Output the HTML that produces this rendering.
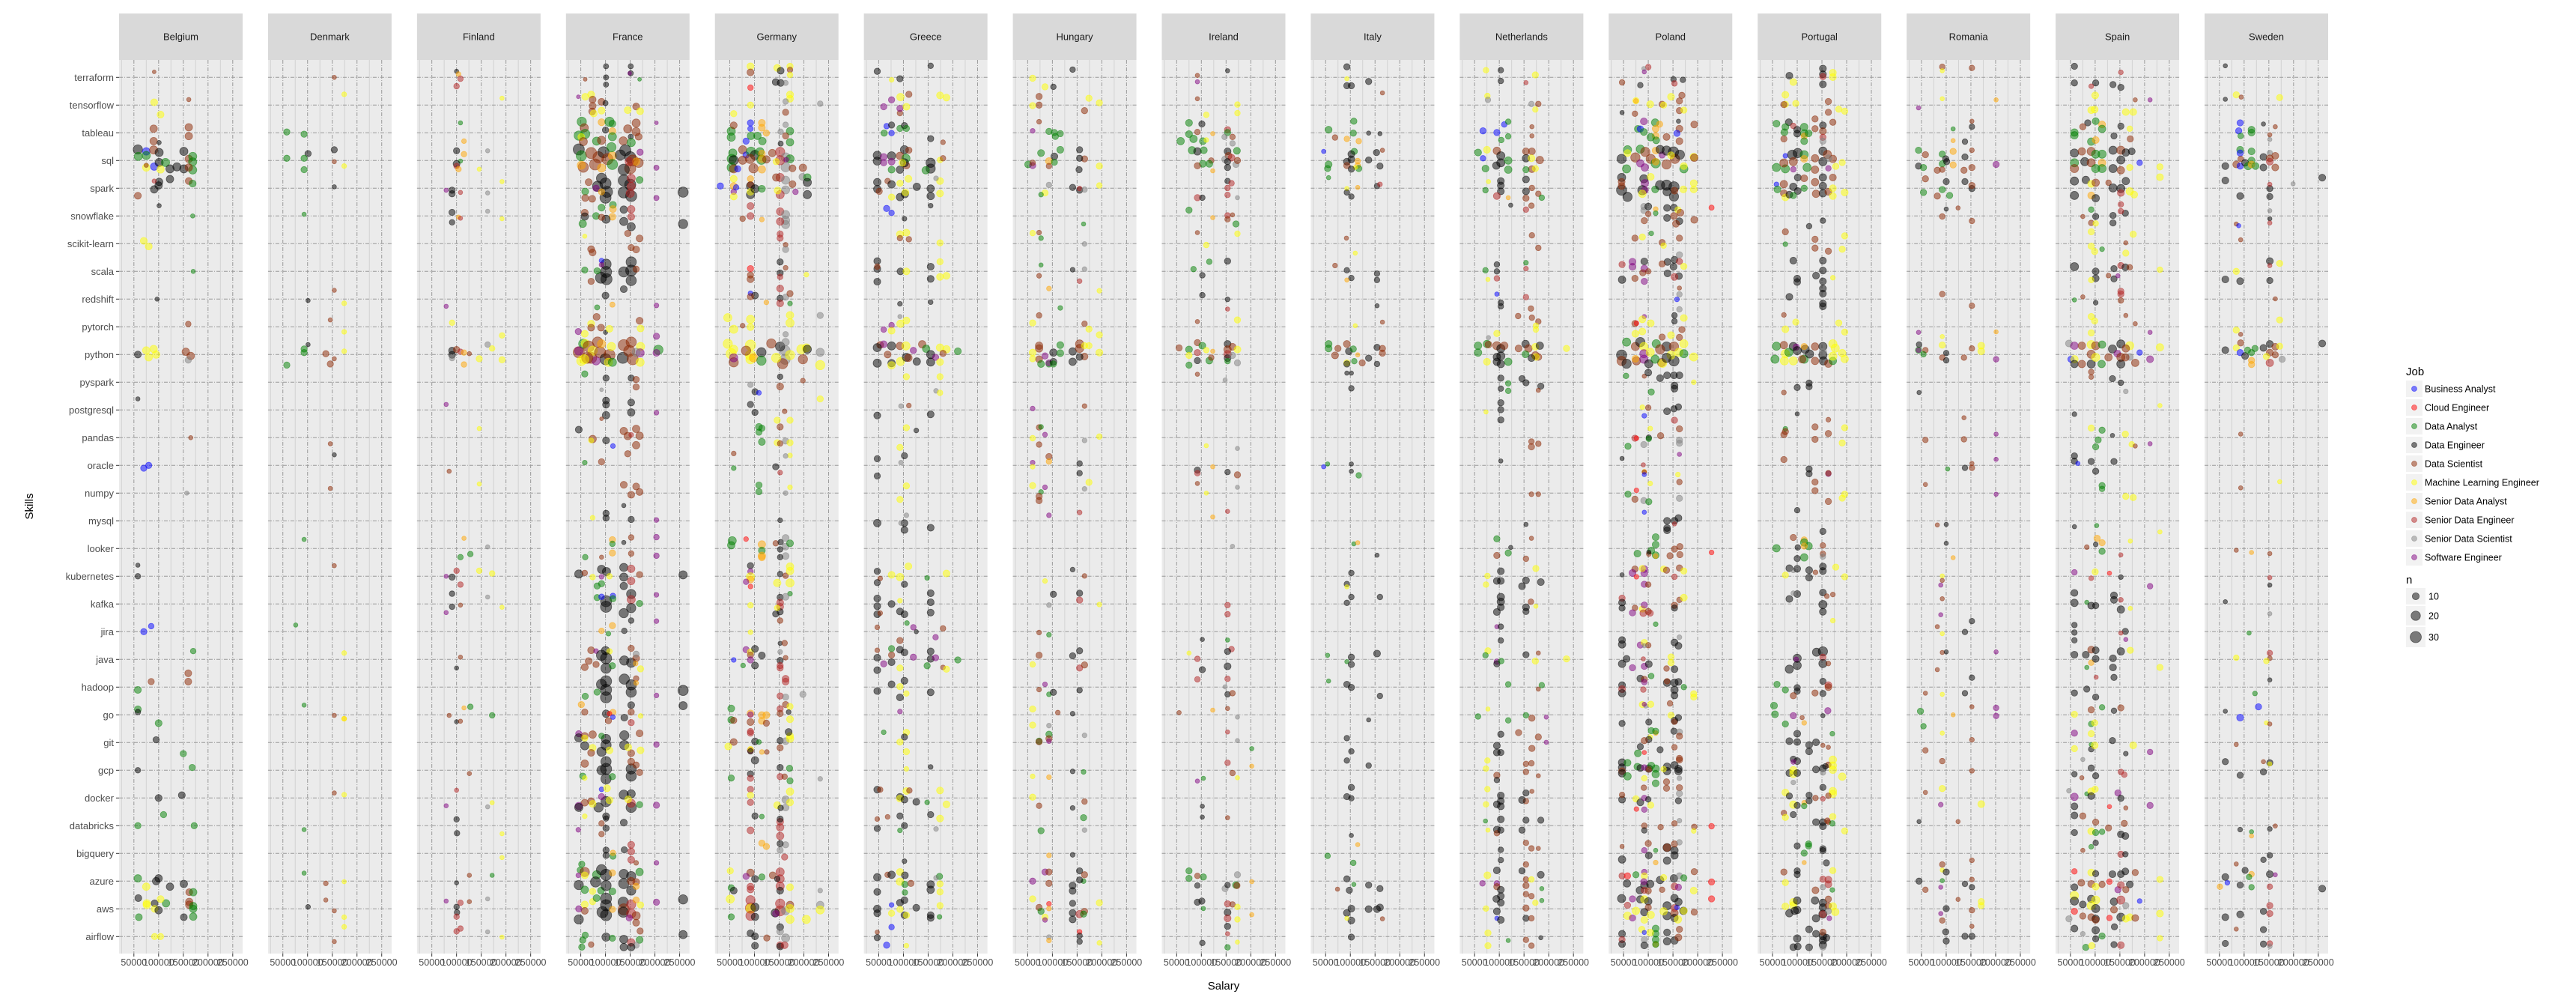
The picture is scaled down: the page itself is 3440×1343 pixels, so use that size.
<!DOCTYPE html>
<html lang="en">
<head>
<meta charset="utf-8">
<title>Skills vs Salary by Country</title>
<style>
html,body{margin:0;padding:0;background:#ffffff;}
svg{display:block;}
text{font-family:"Liberation Sans",sans-serif;}
</style>
</head>
<body>
<svg id="chart" xmlns="http://www.w3.org/2000/svg" width="3440" height="1343" viewBox="0 0 3440 1343">
<rect x="0" y="0" width="3440" height="1343" fill="#ffffff"/>
<g id="panels"></g>
<g id="points"></g>
<g id="axes"></g>
<g id="legend"></g>
</svg>
<script>
const skills=["terraform","tensorflow","tableau","sql","spark","snowflake","scikit-learn","scala","redshift","pytorch","python","pyspark","postgresql","pandas","oracle","numpy","mysql","looker","kubernetes","kafka","jira","java","hadoop","go","git","gcp","docker","databricks","bigquery","azure","aws","airflow"];
const countries=["Belgium","Denmark","Finland","France","Germany","Greece","Hungary","Ireland","Italy","Netherlands","Poland","Portugal","Romania","Spain","Sweden"];
const jobCodes=["B","C","A","E","S","M","O","G","X","W"];
const jobNames=["Business Analyst","Cloud Engineer","Data Analyst","Data Engineer","Data Scientist","Machine Learning Engineer","Senior Data Analyst","Senior Data Engineer","Senior Data Scientist","Software Engineer"];
const jobColors=["#0000ff","#ff0000","#008000","#000000","#8b2500","#ffff00","#ffa500","#b22222","#808080","#800080"];
const xTicks=[50000,100000,150000,200000,250000];
const xTickLabels=["50000","100000","150000","200000","250000"];
const xMinorTicks=[25000,75000,125000,175000,225000];
const sizeLegendValues=[10,20,30];
const sizeLegendLabels=["10","20","30"];
// point tokens: <jobCode><salary in thousands>,<skill row + jitter>,<n>
const pointData=[
"S91,-.2,2 M91,.9,10 S161,.8,3 M104,1.34,10 S90,1.85,12 S161,1.8,12 S161,2.12,12 S90,2.3,12 E101,2.35,3 E58,2.6,20 B75,2.67,12 A59,2.85,15 A75,2.82,15 S90,2.62,15 E101,2.71,15 B91,3.22,12 M75,3.25,12 E101,3.07,15 A114,3.07,15 E123,3.3,15 E137,3.23,15 E151,2.67,15 E151,3.3,15 S161,2.94,12 A169,2.85,15 A169,3.05,15 A169,3.34,15 S161,3.25,12 M104,3.32,12 S75,3.17,3 E101,3.77,12 E100,3.9,12 E91,4.04,12 E123,3.67,12 G91,3.74,3 S161,3.74,10 A169,3.83,10 S58,4.27,10 E101,4.63,3 A169,5,3 M70,5.9,10 M80,6.1,10 A170,7,3 E97,8,3 S160,8.9,6 M75,9.85,12 M80,10.1,12 M95,10,12 M90,9.8,12 S155,9.9,12 S165,10.05,12 E58,10,10 X160,10.2,8 E58,11.6,3 S165,13,3 B70,14.1,8 B80,14,8 X157,15,3 E58,17.6,3 E58,18,6 B70,20,8 B85,19.8,6 A170,20.7,6 S85,21.8,8 S160,21.5,10 S160,21.8,10 A58,22.1,10 A58,22.8,10 A100,23.3,10 E58,22.9,6 E95,23.9,8 A150,24.4,8 E58,25,6 A168,24.9,8 E100,26,10 A110,26.6,8 E147,25.9,10 A58,27,8 A172,27,8 A58,28.9,12 E95,29,12 E100,28.9,12 E123,29.2,12 E151,29.1,12 S162,29.4,10 A170,29.4,12 M75,29.2,12 E59,29.61,10 M76,29.8,12 M76,29.86,12 E92,29.8,10 A115,29.8,12 M104,29.65,10 M92,30,10 E100,30.05,12 E151,30.3,10 A60,30.3,10 S162,29.75,12 S162,29.85,12 A170,29.9,12 A170,30,12 A170,30.28,12 M92,31,8 M104,31,8",
"S154,0,3 M174,.61,4 A58,1.97,8 A93,2.05,8 E101,2.75,8 E154,2.61,8 A58,2.92,8 A93,2.92,8 A93,3.33,8 S154,3.04,3 M174,3.2,4 E154,3.95,3 A93,4.94,3 S154,7.68,3 E101,8.05,3 M174,8.15,4 S146,8.75,3 M174,9.18,4 E101,9.64,3 A93,9.8,8 A93,9.93,8 S137,9.97,8 S154,10.15,3 S146,10.34,8 A58,10.38,8 M174,9.88,4 S146,13.22,3 E154,13.62,3 S146,14.83,3 A93,16.67,3 S154,17.62,3 A76,19.76,3 M174,20.77,4 A93,22.65,3 S154,23.02,3 O174,23.14,4 M174,23.14,4 S154,25.82,3 M174,25.88,4 A93,27.14,3 A93,28.71,3 S137,29.08,4 M174,29.02,3 S137,29.68,3 E101,29.93,4 S154,30.07,3 M174,30.3,4 M174,30.65,4 S154,31.18,3",
"E100,-.22,3 O104,-.12,4 G108,.05,6 G100,.32,6 M192,.75,3 A108,1.64,3 O115,2.3,4 E100,2.65,8 O115,2.77,6 X163,2.65,3 A108,3.02,3 E100,3.12,10 G100,3.2,6 O104,3.31,6 M146,3.31,3 M192,3.76,3 W79,4.07,3 E91,4.07,8 E91,4.2,8 G108,4.15,3 X163,4.17,3 E91,4.87,8 X163,4.83,3 O104,5.04,3 G108,5.08,3 E91,5.23,6 M192,5.1,3 W79,8.26,3 M91,8.85,6 X163,9.64,6 M172,9.78,6 M192,9.31,6 E91,9.86,10 E91,10.01,10 X91,10.13,6 S100,9.82,8 G108,9.9,6 O115,9.93,6 S126,9.97,3 O115,10.36,6 M146,10.15,8 M192,10.19,8 W79,11.8,3 M146,12.67,3 S85,14.21,3 M146,14.67,3 O115,16.63,3 X163,16.94,3 A108,17.31,6 A128,17.2,6 G100,17.8,6 M146,17.8,6 M172,17.9,6 W79,18,3 E91,18.03,8 G108,18.3,6 E91,18.63,6 X163,18.75,3 E91,19.1,6 S108,19.04,3 W79,19.31,3 M192,19.12,3 S108,20.92,3 E100,21.31,3 O115,22.75,3 A128,22.71,6 S85,23.02,3 E100,23.25,3 S108,23.23,3 A172,23.02,6 S126,25.12,3 G100,25.72,3 W79,26.28,3 X163,26.32,3 M172,26.17,3 E100,26.77,6 E101,27.27,6 M192,27.29,3 M192,28.15,3 S126,28.79,3 A172,28.79,3 E100,29.06,3 W79,29.72,3 G108,29.78,6 S126,29.74,3 X163,29.64,3 E100,29.93,6 E101,30.13,6 G100,30.28,6 X163,30.83,3 G100,30.81,6 G108,30.71,6 M192,31.02,3",
"E101,-.4,5 E151,-.4,5 E151,-.15,5 W149,-.15,2 E101,0,5 S59,.07,2 A169,.07,2 E101,.26,5 W45,.7,2 M59,.7,10 M71,.62,10 S74,.8,10 S92,.88,10 E100,.93,5 S74,1.03,10 M92,1.2,10 S73,1.23,10 M76,1.3,10 M145,1.18,10 S162,1.05,10 M170,1.22,10 A52,1.6,20 O92,1.62,10 A108,1.6,20 A114,1.67,10 W203,1.64,2 S162,1.65,15 S57,1.82,15 E100,1.9,8 O114,1.94,10 S145,1.86,15 S162,1.96,15 E151,2.14,5 A46,2.1,20 A59,2.04,20 M51,2.15,10 S167,2.14,10 S55,2.32,15 A82,2.3,15 S92,2.27,15 A114,2.14,15 S136,2.29,15 A152,2.35,15 E46,2.6,30 A51,2.83,25 S71,2.73,30 S86,2.88,30 E96,2.7,30 S104,2.95,30 O114,2.83,15 A114,3.14,25 S55,3.24,25 O51,3.17,15 S79,3.14,30 O92,3.27,15 E140,2.63,30 E150,2.88,30 S155,3,30 S150,3.28,30 S167,3.08,20 E137,3.33,30 W170,2.7,8 W203,3.26,5 O162,3.04,12 G148,3.04,15 A112,2.52,20 E130,2.8,25 E92,3.64,25 E100,3.83,30 E103,4.13,30 E100,4.34,30 E84,3.93,25 E137,3.72,30 E150,3.87,30 E137,4.15,30 E152,4.28,30 G152,3.64,15 G152,3.93,15 G150,4.18,15 S66,3.78,10 A59,4.12,10 S59,4.35,10 W81,4,8 O92,4.13,8 A169,3.7,10 W203,4.35,5 E257,4.14,25 S73,4.38,10 A115,4.6,10 O115,4.75,10 A92,4.7,10 E137,4.77,12 G152,4.76,12 S58,4.88,10 E58,5.02,12 O114,5.03,10 E101,5.12,15 A81,5,10 S92,5.05,8 E137,5.2,15 G152,5.03,10 A54,5.28,12 E152,5.39,15 E257,5.29,20 S145,5.63,8 M58,5.73,3 S169,5.81,10 S71,6.2,10 S74,6.32,10 S152,6.14,8 S162,6.21,10 E101,6.74,25 E101,7.02,30 E91,7.23,30 E102,7.28,30 E137,7.02,25 E152,6.66,25 E152,6.97,30 E152,7.33,25 A58,6.95,8 A83,6.98,8 S71,7.36,8 B92,6.61,4 W92,6.76,4 S162,6.92,8 E137,7.64,10 E100,7.87,10 A83,8.3,5 O114,8.2,5 W203,8.23,4 S82,8.64,10 M71,8.89,10 S71,9.03,10 S91,9.03,10 W45,9.17,8 M58,9.25,10 E100,9.2,3 M108,9.07,10 S169,8.78,10 M171,9.06,10 W203,9.34,8 S46,9.92,30 M51,10.23,20 A55,9.61,20 M59,9.6,15 S66,9.71,30 S71,10.12,30 M74,9.86,20 S84,9.55,25 S89,9.92,30 O92,9.61,15 E100,10.17,30 S108,10.02,30 M106,10.28,15 A114,10.28,15 M112,9.71,15 W46,9.87,15 W81,10.23,15 E135,10.12,30 S137,9.66,30 S148,9.87,30 S152,9.55,25 S155,10.17,30 M171,9.71,15 M170,10.28,15 W170,9.94,15 X162,9.92,15 A207,9.83,20 W203,9.94,10 S63,10.12,30 M57,10.17,20 A58,10.7,8 E101,10.85,8 E152,10.85,8 S162,10.9,8 S162,11.17,8 X92,11.27,2 E101,11.66,10 E101,11.81,10 E152,11.73,10 E152,12.09,12 E101,12.19,12 S92,12.32,2 W203,12.1,4 E46,12.71,10 S137,12.76,12 S145,12.94,12 S162,12.68,12 S169,12.93,12 S74,13.05,12 M71,13.1,5 E101,13.1,10 B115,13.3,4 G152,12.9,4 S162,13.27,12 S145,13.58,8 A58,13.9,4 S92,13.87,8 S137,14.7,10 S162,14.76,10 S152,15.06,10 S169,14.96,10 E137,15.45,3 E101,15.73,8 E101,15.9,8 M74,15.89,4 E152,15.95,8 W203,15.97,4 O114,16.68,8 A114,16.83,6 E137,16.78,3 S152,16.6,6 W203,16.59,6 A59,17.31,6 O114,17.16,8 S92,17.31,3 S152,17.18,6 W203,17.26,6 E92,17.75,15 E102,17.83,15 E46,17.92,15 S58,17.88,6 M74,18.03,6 W92,18.02,4 M108,18,6 A92,18.27,8 A83,18.35,8 E137,17.68,15 G152,17.73,12 E137,18.03,15 G152,18.17,12 E137,18.35,12 S169,17.94,8 E257,17.95,15 E101,18.9,30 E101,19.1,30 A83,18.77,8 B92,18.74,6 B115,18.71,6 A115,18.81,8 E152,18.64,20 G152,18.84,15 E152,19.15,20 E137,19.33,20 A169,18.98,8 W203,18.67,4 W203,19.62,4 E152,19.6,6 O114,19.78,8 O92,19.97,6 A106,20.07,4 E138,19.97,6 S71,20.67,10 W81,20.7,4 E100,20.68,15 M108,20.71,6 E92,20.85,25 E101,20.96,30 S66,21.06,10 S58,21.28,10 S81,21.18,8 E101,21.32,25 A114,21.23,8 E138,21.04,20 E152,21.12,20 S162,20.96,10 S152,20.6,8 X162,20.81,8 M171,21.34,8 O161,21.15,4 E92,21.9,25 E101,21.79,30 E101,22.1,30 E101,22.37,30 A83,22.18,8 A59,22.33,8 E138,21.71,25 E152,21.92,25 E152,22.18,25 S162,21.69,6 O162,21.85,4 E257,22.12,25 W203,22.3,4 O51,22.63,8 E152,22.65,10 S58,22.9,8 E101,22.96,12 O115,22.91,8 C108,22.96,4 S106,23.21,8 E138,23.1,10 S152,22.9,8 M171,23.04,4 E257,22.67,15 G152,23.28,8 B115,23.08,4 W46,23.68,8 E46,23.83,15 S58,23.76,10 M58,23.84,8 E58,24.12,15 S74,23.71,12 M74,24.19,10 S71,24.37,10 E101,23.87,20 E101,24.09,25 E92,24.33,20 A92,23.76,6 M108,24.28,10 E138,23.74,20 E138,24.09,20 S169,23.67,10 S152,24.38,10 M146,24.17,10 M171,24.28,10 W203,24.07,6 S58,24.76,12 E101,24.69,25 E101,24.95,30 E92,25,20 E101,25.31,25 A54,25.21,8 M58,25.28,4 E152,24.95,25 E152,25.21,25 S152,24.69,10 S162,24.81,8 S169,25.08,8 A114,25.23,8 B92,25.69,4 M103,25.65,10 E101,26.13,25 E86,26.34,20 W92,25.95,8 S58,26.17,10 W46,26.29,12 E46,26.34,15 S71,26.12,10 M74,26.21,10 M108,26.08,10 E137,25.88,20 E152,26.34,25 G152,26.19,15 E152,25.85,15 A169,26.24,8 W203,26.26,8 M146,26.05,10 E101,26.66,10 E101,26.74,6 M58,26.66,4 W45,27.15,4 S92,26.92,6 S92,27.3,6 E101,27.09,8 E137,26.89,10 E101,27.88,8 E101,28.07,8 A115,28.1,8 O115,27.98,6 E138,27.87,8 G152,27.69,10 G152,27.93,10 G152,28.23,10 S162,28.34,4 W203,28.34,4 A52,28.39,8 A49,28.6,8 S58,28.67,20 M58,28.79,10 A82,28.77,15 E92,28.59,25 E101,28.77,30 E80,29.03,25 E46,29.14,20 A58,29.31,12 M74,29.37,8 A91,29.34,10 A114,29.37,10 E101,29.16,25 O114,28.7,8 W45,28.79,4 E137,28.74,20 E152,28.82,20 E137,29.09,25 E152,29.34,20 S152,29,12 A169,28.67,12 S162,29.03,10 O162,29.19,8 E101,29.63,30 E101,29.87,30 E94,30.12,30 E101,30.23,30 E46,30.38,20 M58,29.84,10 S58,30.07,10 W46,30,8 M74,29.74,8 A82,29.61,10 O114,30.02,8 E136,29.76,25 S137,30.02,30 E136,30.12,25 G152,29.84,20 G152,30.17,20 S162,30.25,15 O162,29.68,8 M171,29.86,8 W148,30.33,8 W203,29.76,8 E257,29.66,20 S162,30.5,10 A59,30.95,8 A54,31.13,8 A52,31.38,8 E101,31.02,15 A114,31.06,8 S71,31.29,6 E137,31.1,15 E137,31.38,12 G152,31.21,12 A169,31.12,10 X162,31.31,8 S170,30.8,8 E257,30.93,15 E152,31.38,12",
"M92,-.4,10 S92,-.18,10 M146,-.34,10 E153,-.24,10 M172,-.4,8 S172,-.27,6 M172,-.09,6 E143,.17,10 E153,.2,10 X163,.2,5 C92,.37,6 M92,1,8 M58,1.31,8 M172,.62,10 M172,.77,10 X163,.87,6 S163,1.26,8 X233,.95,6 B92,1.64,8 B92,1.85,6 O115,1.64,10 O115,1.82,10 O124,2.01,8 A53,1.94,15 A53,2.16,15 S58,1.73,10 B83,2.3,8 A93,2.11,12 A106,2.11,12 A116,2.3,12 X153,1.96,6 A172,1.94,12 A172,2.34,12 S163,2.11,8 X163,1.71,6 E153,2.39,5 S76,2.61,15 A56,2.73,15 B83,2.8,8 A93,2.68,20 E101,2.8,20 A111,2.68,15 O115,2.75,10 S136,2.73,12 A54,2.94,20 E58,2.99,20 S76,2.99,15 S91,2.94,20 A114,2.97,20 O115,2.94,12 S124,2.96,12 A54,3.25,20 S58,3.3,15 B66,3.3,8 S98,3.28,20 O115,3.32,12 G152,2.69,20 X163,2.89,20 X163,3.24,20 G152,2.99,20 M144,3.04,8 A172,2.94,15 S177,3.28,10 S198,3.26,12 W164,2.97,4 G152,3.61,15 S144,3.61,12 X163,3.71,15 S177,3.85,10 X163,4.06,15 G152,4.23,15 M147,4.08,10 X197,3.59,10 A207,3.61,12 E207,3.79,15 E207,4.23,15 W183,4.13,6 B31,3.92,8 M58,3.66,10 O58,3.92,10 W58,4.13,6 M58,4.3,10 E92,4.23,15 E92,3.92,15 M92,4.13,10 O92,3.66,8 S92,3.87,8 E101,4.02,15 A115,4.02,10 G92,4.64,10 G92,5,10 S76,5.1,6 O115,5.13,4 B63,3.97,6 G152,4.84,12 X163,4.95,15 X163,5.16,15 X163,5.31,15 G152,5.2,12 G152,5.65,8 G152,5.8,8 S163,6.04,4 X163,6.21,8 E152,6.66,8 S163,6.87,4 E152,7.06,8 C92,6.9,8 S92,7.13,8 S92,7.28,10 G152,7.2,6 M205,7.12,4 B92,7.79,4 E101,7.87,10 S92,7.91,8 G152,7.62,10 E152,7.97,8 X163,7.93,8 S172,7.8,8 O124,8.12,4 A172,8.16,4 G152,8.15,10 M46,8.67,15 M92,8.73,15 M58,9.09,15 M92,9.01,10 S76,8.96,4 M172,8.58,12 M172,8.86,15 X163,9.27,6 X233,8.59,8 M46,9.61,20 M53,9.97,25 S58,10.28,20 W58,10.12,15 M58,9.81,15 M92,9.66,25 M92,10.02,25 S83,9.86,20 M92,10.17,20 O98,10.12,15 E114,9.92,20 A114,10.22,20 S134,9.6,20 X162,9.86,25 X162,10.17,25 E152,9.71,20 S157,10.33,25 M144,10.12,20 M172,10.02,20 M195,9.81,20 M205,9.76,15 S198,10.17,20 X233,9.92,15 M233,10.38,20 E207,9.81,15 X163,9.55,12 X92,11.09,6 E101,11.34,8 B109,11.38,4 E152,10.8,6 S152,11.15,10 S198,10.94,4 M233,11.6,8 E92,11.8,8 E101,12.09,8 S161,12.05,4 M146,12.37,8 M172,12.37,8 S152,12.61,8 A109,12.61,10 A115,12.66,8 A109,12.8,8 A115,13.15,10 M146,13.18,8 S152,13.21,6 X163,13.12,8 M172,13.18,8 S58,13.57,4 A58,14.1,4 E143,14.05,8 G152,14.26,4 M172,13.64,4 X163,13.66,4 A109,14.71,8 A109,14.95,8 M172,14.79,4 X163,15,4 E152,15.98,4 C83,16.66,4 A55,16.72,15 A53,16.88,12 O115,16.85,12 A115,17.07,10 O115,17.26,12 O115,17.32,10 S143,16.81,6 E153,16.77,6 X163,16.62,10 X163,16.93,10 X163,17.27,10 A172,16.81,10 E152,17.03,6 E152,17.31,6 E92,17.62,8 W92,17.83,6 M92,18.02,15 O92,18.12,10 W83,18.2,6 C92,18.37,4 E152,17.92,6 S163,17.98,6 M146,18.24,12 M172,17.65,12 M172,17.81,12 M172,18.24,15 A172,18.63,4 E152,18.76,8 X163,18.74,10 G152,18.95,10 G152,19.1,10 E152,19.28,8 E143,19.36,8 M92,19.05,6 M146,19.14,6 S152,19.6,6 M92,20.02,4 E152,20.42,3 S161,20.41,6 W83,20.65,8 M92,20.73,8 S92,20.84,8 W92,21.02,8 E101,20.62,10 E115,20.86,10 E101,21.22,10 B58,21.02,4 A77,21.22,4 X152,20.73,4 E152,21.04,8 S163,20.94,4 G152,21.22,8 G152,21.31,8 G163,21.7,10 G163,21.8,10 G152,22.32,8 X163,22.36,8 X198,22.26,8 A53,22.77,10 A53,23.18,10 S58,23.2,8 O92,22.95,10 W92,22.99,6 S92,23.26,10 O115,23.01,10 O124,23.01,10 O115,23.22,10 S124,23.3,8 G152,22.78,8 S152,22.95,8 S163,22.63,8 M172,22.7,8 E169,22.9,4 M172,23.16,10 G92,23.6,8 G92,23.66,8 S58,23.98,10 M47,24.14,10 E101,23.96,10 A109,23.98,4 G92,24.28,8 M92,24.24,6 E92,24.32,6 E101,24.64,12 O115,24.34,4 S125,24.34,4 E152,23.93,8 S152,24.19,8 X163,23.95,10 M172,23.86,12 M172,23.76,10 E169,23.62,10 E92,25.13,8 G92,25.29,8 A53,25.28,8 E152,24.9,8 G152,25.23,8 A171,24.93,8 S161,25.23,6 A172,25.38,8 M172,25.77,12 X233,25.31,4 G92,25.69,8 M92,25.9,8 G92,26.16,8 E101,26.65,8 A115,26.67,4 X163,26.06,12 X163,26.34,10 M146,26.26,10 M172,26.16,10 E153,26.36,6 G92,27.17,10 G152,26.86,10 G152,27.06,12 G152,27.37,12 E152,26.76,8 O115,27.63,8 O124,27.75,8 X163,27.69,8 X152,27.88,8 E152,27.65,8 G161,28.13,8 M51,28.63,8 S92,28.7,12 W83,28.83,8 G92,29.2,10 G92,29.3,10 A115,28.85,8 E101,28.92,10 S137,28.79,10 G152,28.67,15 G152,28.92,15 G152,29.18,15 E152,29.34,10 A53,29.24,8 E58,29.34,10 M51,29.65,15 M172,29.22,10 X233,29.34,4 E146,28.92,6 G92,29.69,20 G92,29.97,25 M92,29.99,20 G92,30.25,20 E101,29.94,15 E101,30.29,12 A53,30.29,8 G152,29.81,20 G152,30.07,25 E142,30.15,15 X163,30.07,15 S172,29.86,12 M172,29.99,15 M172,30.38,15 M205,30.38,15 X233,29.86,12 M233,30.04,15 W143,30.17,8 E92,30.88,10 E101,30.99,10 E101,31.33,10 S125,31.05,8 E152,30.66,10 X152,30.82,10 X163,31.05,15 G152,31.31,10 E152,31.36,10 G161,31.31,10",
"E47,-.22,8 M76,.09,4 E93,.05,8 E155,-.42,6 S111,.61,8 M94,.71,12 M174,.65,10 M187,.73,10 W60,1.06,8 W76,.81,8 S93,1.29,6 W93,1.12,8 M106,1.06,10 B66,1.76,6 E76,1.72,8 A61,2.01,8 B76,2.01,6 A93,1.84,8 E102,1.74,8 A106,1.84,8 E102,2.61,15 S111,2.63,8 S180,2.34,4 E155,2.21,8 E47,2.81,15 E47,3.02,15 W60,2.87,10 W60,3.08,8 E76,2.83,15 W76,3.04,10 A76,3.33,10 S93,2.83,12 A105,2.92,15 S106,3.18,10 E93,3.33,12 E102,3.08,15 M98,3.08,10 E155,3.08,20 E155,3.29,20 A145,3.35,12 M174,2.98,6 S180,2.92,6 S68,3.74,6 E47,3.78,12 E47,4.03,12 S51,4.11,8 E76,3.86,12 M93,3.82,8 M76,4.32,8 M110,3.66,10 E127,3.95,12 E93,4.32,12 E103,4.21,12 M104,4.15,10 E155,4.01,12 E155,4.28,12 M174,3.74,10 M174,4.19,10 X166,3.64,4 B66,4.73,8 B76,4.89,6 E155,4.63,4 E102,5.1,4 M93,5.66,10 M106,5.6,10 S111,5.84,6 S93,5.8,6 M174,5.97,8 E47,6.63,10 E47,6.91,10 S47,6.83,6 E47,7.37,10 E94,7,10 M106,7,10 M174,6.65,8 E155,6.83,10 E155,7.27,10 M174,7.2,10 M187,7.16,10 E155,8.11,4 E93,8.17,4 X93,8.63,3 W60,9.1,6 W76,8.94,6 M94,8.89,12 M106,8.77,10 M76,9.14,10 S53,9.65,10 W60,9.63,10 E47,9.75,15 E76,9.69,15 S93,9.69,12 M105,9.69,15 E47,10.31,15 S68,10,10 E76,10.31,12 M76,10.39,12 M94,10.25,15 E106,10.1,15 S110,10.12,12 W120,9.85,8 E127,10.25,12 S138,9.63,12 A146,9.79,12 E155,10,15 E155,10.27,15 W165,10.1,8 M174,9.75,12 M187,9.81,12 S180,9.96,8 M174,10.27,10 A210,9.88,10 M106,10.8,8 M174,10.8,8 X166,11.31,4 M174,11.38,6 X95,11.86,4 S111,11.84,4 E47,12.2,10 E155,12.16,10 M106,12.64,8 E126,12.74,4 M93,13.35,8 E102,13.65,8 X95,13.9,4 E47,13.76,8 E47,14.38,8 M106,14.74,8 M93,15.23,8 X106,15.8,4 E47,16.08,12 E102,16.08,10 X95,16.08,4 E102,16.33,10 E155,16.25,10 M110,17.64,10 E47,17.82,8 M76,17.95,10 M93,18.03,12 M187,17.9,10 S53,18.08,4 E102,18.29,8 A148,18.06,4 E47,18.23,8 E47,18.8,10 E47,19.08,10 E47,19.37,10 S53,19.33,4 E76,19,10 M93,18.88,4 E93,19.27,10 E102,19.37,10 E155,18.61,10 E155,18.94,10 E155,19.31,10 S47,19.84,4 A107,19.69,4 W120,19.84,6 E126,20,3 S180,19.88,6 W165,20.2,6 S47,20.67,4 A76,20.61,8 S76,20.84,8 E47,20.94,10 W60,21.16,8 E76,21.1,10 S93,20.32,8 E93,20.65,10 E102,20.75,10 W120,20.92,8 E155,20.71,10 E155,20.98,10 W165,20.94,8 A148,21.23,8 S180,21.29,4 M187,21.35,8 A210,21.02,8 M93,21.31,8 E47,21.39,10 E102,21.77,10 E47,22.14,10 E76,21.9,10 M93,21.98,8 M106,22.23,6 E155,22.19,10 E93,22.37,10 W93,22.88,4 A60,23.63,4 M106,23.63,8 E102,23.8,8 M93,23.98,8 M106,24.33,8 M106,24.95,4 E155,24.88,4 E47,25.7,10 S53,25.7,6 M106,25.75,10 S112,25.73,6 E93,25.96,10 M93,26.02,10 E102,26.06,10 E126,26.14,10 A148,26.16,4 M174,25.73,10 M187,26.23,10 E155,26.6,8 M174,26.74,10 S68,26.68,4 S47,26.76,4 E47,27.1,8 E93,26.65,8 E102,27,8 A93,27.17,4 X166,27.12,4 E102,28.28,4 E47,28.86,12 S68,28.77,6 E76,28.77,12 M93,28.67,10 M93,29.02,12 E103,28.79,10 A103,29.12,8 S115,29.08,8 E155,29.12,12 E155,29.31,12 A173,28.83,8 M174,29.1,8 X166,28.88,4 E47,29.39,10 M174,29.39,8 A103,29.41,6 E93,29.78,10 E102,29.69,10 B76,29.86,4 M174,29.88,8 E47,30,12 E47,30.16,10 M76,30.16,8 M93,30.02,8 E102,30.23,10 M106,30.23,8 E126,29.96,10 E155,30.23,10 E155,30.33,10 A173,30.29,4 B76,30.66,6 S47,30.84,3 E47,31.04,8 B66,31.31,8 M106,31.33,4",
"M60,.03,8 E141,-.28,6 M85,.34,8 E102,.34,6 M174,.75,8 M195,.92,8 S73,.69,8 S73,1,8 M60,1.02,8 S165,1.2,8 S73,1.6,4 W60,1.93,4 A93,1.95,8 A104,1.99,8 A116,2.03,8 A106,2.13,8 A77,2.73,10 A116,2.61,10 E155,2.61,8 S165,2.94,8 E155,2.92,8 O93,3.02,10 E104,2.85,10 A104,3.06,8 S93,3.2,6 A51,3.14,10 W60,3.18,8 S60,3.08,6 E154,3.33,8 M195,3.2,8 X93,3.88,6 E141,3.97,8 E155,4.07,8 G155,4.01,4 X165,4.05,6 M195,3.9,6 M85,4.17,8 A77,4.23,4 A163,5.29,3 M60,5.62,6 S73,5.6,4 A77,5.8,4 X165,6.01,4 A77,6.77,3 E141,6.94,4 X165,6.92,4 S73,7.16,4 G155,7.35,4 O93,7.62,4 M195,7.7,4 A116,8.32,4 S73,8.59,6 M60,8.86,8 S165,8.89,6 M174,9.08,8 M195,9.29,8 S73,9.68,12 S73,9.78,12 A116,9.66,10 E102,9.93,12 E141,9.89,12 S155,9.62,15 S155,9.78,15 M165,9.68,8 M174,9.68,8 S165,10.07,10 E155,10.09,10 M60,9.93,10 M60,10.15,8 S73,10.17,10 W85,10.05,8 A77,10.34,10 A93,10.34,8 W93,10.3,8 E102,10.26,10 A102,10.34,8 A116,9.95,10 E141,10.26,12 M195,9.93,10 W60,11.95,4 S165,11.86,4 S73,12.63,6 A77,12.61,4 W85,12.89,4 M60,13.02,6 X165,13.1,4 M195,12.96,6 S73,13.25,6 S93,13.68,8 O93,13.86,6 W60,13.9,4 M60,14.05,4 E155,13.93,6 E155,14.28,6 M60,14.73,8 M174,14.61,8 X165,14.85,4 W85,14.79,4 A77,14.96,4 S73,15.12,8 S73,15.27,8 W93,15.8,4 G155,15.7,4 E141,17.76,4 S165,17.99,4 M85,18.17,4 E102,18.65,8 E155,18.61,8 G155,18.86,8 X93,19.04,4 M195,19.02,4 S73,20.03,4 A93,20.11,4 E155,20.69,8 E141,20.87,8 M60,21.18,6 S73,20.85,8 G155,21.31,8 S165,21.2,8 W85,21.9,4 S73,22.09,4 A93,22.26,4 E102,22.19,8 E155,22.11,6 M60,22.79,8 S111,22.92,4 E141,22.96,4 M60,23.37,8 X93,23.39,4 X165,23.74,4 A93,23.7,8 S93,23.86,8 A73,23.95,8 S73,23.97,8 W93,23.95,4 M60,25.22,4 O93,25.25,4 E141,25.04,4 A163,25.06,4 M60,25.97,8 S73,26.28,6 S165,26.13,6 E141,26.36,4 A163,26.71,8 X165,27.16,4 A77,27.18,8 O93,28.07,4 E141,28.05,4 W85,28.67,8 S93,28.67,8 E155,28.63,8 S165,28.77,8 W60,29,8 S93,29.08,8 E141,29.16,10 A163,29,4 E141,29.35,10 E155,28.96,8 M60,29.64,8 E141,29.8,8 S73,29.95,8 C93,29.82,4 O93,29.99,4 A77,30.09,8 M85,30.3,8 W85,30.4,4 M195,29.78,8 E141,30.15,10 E141,30.38,10 G155,30.19,12 S165,30.09,8 A163,30.19,8 C155,30.83,4 E155,30.97,6 X93,31.02,4 O93,31.14,4 M195,31.23,4 E155,31.18,6",
"S92,-.07,3 W92,.16,3 E153,-.24,3 S92,.77,3 M173,.98,6 M173,1.29,6 M110,1.35,6 A75,1.64,10 E101,1.68,8 S92,1.97,6 A75,2.05,10 A84,2.22,12 A103,2.3,10 A81,2.63,12 E92,2.67,12 A58,2.3,12 A105,2.63,10 O123,2.03,3 M110,2.26,4 G153,1.89,8 A153,1.99,8 S163,2.15,6 X163,2.38,6 X147,2.15,6 A172,2.65,10 E153,2.67,10 S155,2.83,10 X148,2.96,10 S120,3,6 A103,3.12,10 A116,3.12,10 S92,3.19,8 G161,2.9,10 E153,3.04,8 E153,3.25,8 X170,3.14,8 S173,3,8 O123,3.37,3 E153,3.74,6 G161,3.82,6 G153,3.99,6 G153,4.24,6 G92,4.34,8 E102,4.34,6 X173,4.34,3 A75,4.79,8 O123,5.06,3 G153,4.98,6 S153,5.12,6 S163,4.96,3 A170,5.29,8 S92,5.6,3 M173,5.64,6 M110,6.05,6 A116,6.65,6 E153,6.63,8 A84,6.92,6 E102,7.14,6 E102,7.86,6 E153,8.01,4 G153,8.36,3 M173,8.75,8 S92,8.81,3 S55,9.76,8 S92,9.57,8 A102,9.68,10 A75,9.82,10 M75,10.03,8 G92,9.93,8 E92,10.22,8 A116,10.22,10 M110,9.84,6 S120,10.11,6 O123,9.88,3 A75,10.38,8 E153,9.62,10 S153,9.82,12 G153,9.99,12 E153,10.13,10 S163,9.72,10 M173,9.82,10 X163,10.03,8 X173,10.3,8 A153,10.24,6 S92,10.71,3 X148,10.92,3 M110,13.29,3 X173,13.39,3 E92,14.17,8 G92,14.28,6 O123,14.05,3 E153,14.24,6 S173,14.34,8 S92,14.65,3 X173,14.79,3 M110,15,3 O123,15.86,3 G153,15.66,3 X163,16.92,3 G153,19.04,6 G153,19.37,6 E102,20.28,3 A153,20.3,3 M75,20.77,3 G92,20.98,6 E102,21.37,8 G161,20.63,6 E153,20.71,8 E153,21.25,10 G153,21.7,6 G92,21.72,6 X148,21.99,3 E153,22.26,6 S163,22.22,6 S55,22.92,3 O123,22.83,3 S153,22.77,3 X173,23.08,3 G153,23.62,3 X173,23.93,3 A202,24.22,3 G153,24.73,6 S163,25.1,6 O202,24.85,3 W92,25.39,3 A104,25.29,3 M173,25.27,3 E102,26.3,3 E102,26.69,3 S153,26.71,3 A75,28.63,8 A75,28.9,8 S92,28.81,6 A104,28.85,8 E92,29.16,6 E92,29.76,8 E101,29.72,8 X148,29.27,8 E153,29.14,6 A170,29.14,10 S172,29.16,8 X173,28.77,8 O202,29.02,3 G153,29.82,8 S163,29.84,6 M173,29.93,6 A104,29.99,3 E153,30.13,10 G153,30.34,10 E153,30.63,8 M173,30.38,6 O202,30.21,3 G153,30.9,3 M173,31.2,3 E102,31.23,6 A153,31.39,6",
"E93,-.38,8 M93,.05,3 E93,.3,8 E102,.3,8 E137,.15,8 S165,.56,3 A107,1.58,8 A56,1.89,10 S69,2.17,6 A106,2.01,8 O93,2.22,6 E137,2.01,3 E160,2.03,3 O117,2.3,6 B46,2.67,3 A108,2.67,8 E102,2.77,10 S165,2.63,3 E153,2.71,8 A56,3.14,10 A54,3.29,8 E93,3.04,10 S93,3.18,8 E102,2.96,10 O115,3.02,6 O115,3.18,6 A117,3.29,8 M110,3.25,3 E102,3.31,8 E137,2.98,8 E160,3.2,8 A56,3.62,3 M93,4.01,3 O115,3.97,3 E93,4.15,6 E102,4.3,6 E154,3.92,6 G160,3.86,4 S92,5.8,3 M110,6.34,3 S69,6.79,4 E93,6.96,6 E102,7.24,6 O93,7.31,3 E154,7.08,6 E154,7.31,6 E154,8.24,3 S165,8.83,3 M110,8.96,3 A56,9.62,10 A56,9.78,10 S69,10.03,10 S75,9.78,8 S93,9.62,10 E97,9.88,10 A106,9.8,8 O115,10.01,3 M93,10.3,8 E93,10.34,8 A108,10.24,6 S124,10.3,8 E137,10.13,8 E154,9.74,8 S165,9.78,8 S165,9.95,8 E154,10.34,6 E102,10.67,3 E93,10.67,3 E102,11.22,6 B46,14.05,3 A54,13.95,3 E102,13.95,3 E102,14.21,3 A117,14.36,6 A107,16.83,3 O115,16.79,3 E154,17.24,3 E102,17.88,6 E93,18.28,6 M93,18.38,3 E102,18.75,6 E160,18.75,6 E93,18.96,6 A54,20.85,3 A93,21.08,3 E102,20.92,8 E102,21.18,8 E154,20.79,10 A56,21.78,3 E93,21.9,8 E102,22.01,8 E160,22.32,6 E137,23.18,3 E93,23.84,6 E102,24.32,6 E93,24.65,6 E137,24.83,6 E102,25.62,8 E93,25.95,8 E102,26.01,6 E102,27.35,3 O115,27.68,3 A54,28.09,6 A106,28.34,6 E93,28.92,8 E137,29.14,8 E160,29.27,8 S74,29.29,3 A107,29.12,3 E98,29.33,8 E102,29.99,10 E93,30.15,10 E102,30.42,10 M93,30.34,3 E137,30.01,10 E154,30.01,10 E160,29.95,10 S165,30.36,3 E102,31.02,8",
"M73,-.26,6 E103,-.26,6 E103,.13,6 M173,-.09,8 G154,.19,3 M76,.67,6 X77,.81,6 X165,.96,6 S179,.96,6 M173,1.16,6 B110,1.7,6 A118,1.6,6 B67,1.93,8 B95,1.99,8 A118,2.13,6 S166,1.78,3 S166,2.11,3 A104,2.26,6 A57,2.71,10 M75,2.61,10 S95,2.65,12 E103,2.83,15 E103,3.08,15 E94,3.18,12 A118,3,12 A72,3.29,10 B67,2.92,6 A118,3.33,12 S154,2.67,10 S166,2.67,10 E154,2.92,12 M165,2.92,10 S182,2.98,12 S166,3.31,10 M173,3.29,8 A154,3.33,8 E103,3.74,10 E103,3.9,10 E103,4.11,10 M78,3.76,3 A72,4.07,6 G95,4.28,10 O118,4.34,3 E123,4.61,3 E154,3.68,10 E154,4.11,10 S166,3.99,6 S154,4.36,8 S179,4.2,6 A186,4.34,6 G154,4.77,6 S165,4.63,6 S166,5.7,6 S179,6.15,6 A154,6.69,4 G154,6.9,4 A72,6.96,6 E95,6.75,6 E95,7,6 M77,7.29,3 G95,7.25,6 B95,7.82,3 G154,7.93,6 E103,8.13,6 E103,8.26,6 S164,8.34,6 S138,8.61,6 S166,8.67,6 S179,8.81,6 M174,8.96,6 M174,9.1,6 M95,9.24,8 X78,9.39,3 A57,9.68,12 A75,9.62,12 A57,9.93,12 M75,10.26,10 S78,9.64,10 S95,9.68,15 E103,9.78,15 S110,9.68,12 E95,10.09,12 E103,10.05,15 A118,10.26,12 E95,10.26,12 E103,10.34,12 S139,9.78,10 E153,9.62,12 S159,9.78,12 M173,9.72,10 E182,9.68,12 S173,10.03,12 A153,9.99,10 S179,10.09,10 M174,10.09,10 E165,10.13,10 M236,9.78,8 E103,10.85,8 A118,11.04,6 A118,11.31,6 E146,10.87,8 E154,11.02,8 E184,11.14,8 S179,11.29,3 E103,11.23,6 E103,11.74,8 E103,11.99,8 E103,12.36,8 M73,12.07,3 S165,13.14,6 S165,13.33,8 S179,13.22,6 E103,13.84,3 S165,15.04,4 S179,15.04,4 E154,16.13,3 S165,16.63,3 A95,16.65,8 E123,16.96,3 A118,17.16,8 S95,17.25,8 S154,17.37,6 M174,17.72,8 M76,17.99,6 E95,18.17,10 E103,17.82,10 E103,18.17,10 M73,18.3,6 E146,18.36,10 E154,18.15,10 E184,18.21,10 E103,18.75,12 E103,18.92,12 E95,19.29,10 E103,19.12,10 E154,19.12,10 E154,19.27,8 S164,18.92,6 M174,19.08,3 W95,19.82,3 E103,19.82,6 E103,20.32,6 M77,20.69,8 A72,20.85,6 W95,21.08,6 E95,21.16,8 A104,21.06,6 E154,20.83,8 S179,20.77,3 M173,21.06,8 M236,20.98,8 A118,21.9,6 S179,22.07,3 A186,21.93,6 A57,23.06,6 M77,22.79,3 A118,23.2,6 A154,23.02,6 S166,23.12,8 W195,23.08,3 S139,23.64,8 S179,23.8,8 S166,24.21,8 W195,23.99,3 E95,24.11,10 E95,24.36,10 E103,24.36,8 E103,23.7,8 M76,24.65,6 M73,24.94,6 S95,25.18,8 E95,25.35,6 S154,24.77,6 S154,25.06,6 S165,24.75,6 S179,25.2,3 M76,25.68,6 E103,25.91,10 E103,26.11,10 E95,26.23,10 E103,26.3,10 M73,26.23,6 S154,26.11,6 E154,25.82,8 E146,26.07,10 S166,25.76,3 E103,26.77,10 E95,27.14,10 S95,27.27,6 E103,27.16,8 A72,26.83,3 M77,27.16,3 E154,26.8,8 E184,26.8,8 S154,27.62,6 S165,27.82,6 E146,27.16,8 S179,27.82,3 E103,27.87,6 E103,28.24,6 E95,28.61,10 M76,28.79,10 W66,29.08,6 W95,29.08,6 S95,29.2,8 E103,29.31,10 E103,29.54,10 E94,29.64,10 E103,29.78,10 E146,28.63,8 E184,28.77,10 S154,28.4,6 S154,28.94,6 M165,28.94,6 S154,29.16,8 S165,29.54,6 S154,29.47,6 A186,29.27,3 A186,29.7,3 M173,29.78,6 M73,29.99,6 B95,30.34,3 E103,30.4,10 E95,30.09,10 S154,29.97,8 E154,30.34,8 S165,30.34,6 M77,30.87,8 M77,31.33,8 A118,31.14,3 S154,31.12,6 S165,31.33,6 E184,31.04,3",
"G100,-.37,6 X91,-.32,3 W92,-.2,3 S47,.18,6 E84,.28,6 E151,.07,6 E170,.09,6 G153,.22,6 M75,.84,8 O75,.85,4 E47,1.27,3 S73,1.31,6 M104,.97,10 S128,.97,8 M131,1,8 M146,.7,10 S168,.65,8 S163,.85,8 S163,1.2,8 M172,1.18,8 E161,1.58,3 A79,1.86,10 B84,1.86,8 W91,1.59,10 A91,1.97,10 A114,1.63,12 O115,1.85,10 O115,2.11,10 A105,2.16,12 O123,1.69,8 S163,1.85,10 S163,2.3,10 S193,1.7,10 B158,2.02,8 S137,2.15,10 A116,2.27,10 A58,2.61,15 E46,2.94,20 A56,3.3,15 S74,2.89,20 M58,2.73,10 A84,2.59,15 S94,2.69,20 W84,3.1,12 W93,3.25,12 S105,2.94,20 A115,3.1,20 O115,2.64,10 O115,3.04,10 W128,2.8,8 E137,2.64,20 E151,2.69,25 S137,3.14,20 S154,2.94,20 E164,2.79,20 M146,2.81,10 A172,3.3,15 M192,2.87,12 S193,2.9,12 M172,3.2,10 E124,2.6,15 E46,3.61,15 E46,4.07,25 E58,4.31,20 S46,3.77,10 S46,3.92,10 E91,3.66,15 W93,3.82,12 E88,4.07,20 W93,4.07,10 M105,3.59,10 A114,4.04,10 M88,4.2,12 E124,3.89,20 E137,3.89,25 E152,3.95,25 E152,4.3,20 S153,4.09,10 M171,4.04,10 M192,3.82,10 M192,4.04,10 E138,4.13,15 X91,4.66,8 X91,4.8,8 E100,4.66,10 O115,4.75,4 A115,4.9,4 S100,4.93,6 S92,5.17,8 E138,4.71,10 E152,4.7,10 M160,4.78,8 S152,5,10 S165,4.88,10 E138,5.07,10 E163,5.19,10 S156,5.28,10 S193,5.14,10 C228,4.7,5 A106,5.63,4 S73,5.8,8 M88,5.76,8 S128,5.96,8 M131,6.07,6 S163,5.8,8 G47,6.75,8 W68,6.65,10 W68,6.83,10 E92,6.64,10 W92,6.9,10 S100,7,6 S89,7.05,8 W92,7.36,8 S73,7.25,8 E47,7.3,12 E139,6.66,10 E153,6.58,10 E151,6.83,10 S128,6.73,8 G163,6.64,8 M172,6.82,8 X163,6.4,8 E139,7.07,10 E162,7.17,10 G153,7.2,10 S163,7.6,3 X163,7.83,6 B158,8.01,4 X163,8.37,6 E153,8.59,6 E153,8.8,6 W92,8.63,3 S73,8.88,8 C76,8.87,4 M88,8.73,10 M105,8.87,10 M74,9.25,10 M88,9.17,10 S128,9.37,8 M146,9.3,10 S168,9.1,8 M172,8.68,10 S163,9.38,8 A56,9.55,15 E46,10.02,25 S46,10.23,20 E56,10.33,20 S74,9.71,15 S76,10.23,15 O74,10.15,10 E84,9.55,20 M91,9.71,15 W91,9.97,15 W91,10.17,15 M104,9.92,15 E101,10.33,15 A116,9.61,15 S127,10.29,15 M129,10.32,15 A114,10.17,15 E137,9.71,20 S152,9.71,20 E152,10.23,25 M146,10.02,15 M162,9.92,15 M172,9.61,15 A172,9.97,15 M192,10.09,15 S124,9.81,20 E137,10.12,20 A55,10.77,6 S92,10.78,3 E100,10.65,10 E124,10.85,10 E138,10.75,10 E152,10.75,10 E163,10.75,10 E153,11.12,10 E153,11.23,10 M192,11,4 A106,11.35,8 M88,11.9,4 S100,11.92,6 B92,12.21,4 E138,12.05,10 E152,11.96,8 E161,11.89,8 G153,12.37,8 M104,12.67,4 S163,12.68,8 G73,13.02,8 C76,13.02,4 E101,13,6 A101,13.04,6 S125,12.93,8 X163,13.09,8 X163,13.2,8 X91,13.25,8 A59,13.31,8 E47,13.75,3 W163,13.6,3 G90,13.98,3 O92,14.23,4 S92,14.24,3 B92,14.33,3 M160,14.33,4 M104,14.65,4 S163,14.6,6 C76,14.9,4 A59,15.04,8 S73,15.22,8 X91,15.27,8 A101,15.31,8 X163,15.19,8 B92,15.69,3 E138,16,10 E138,16.26,10 E138,16.34,10 E153,16,10 G153,16.11,3 E161,15.9,10 A115,16.59,10 A115,16.86,10 A78,17.18,10 A106,17.07,10 A115,17.24,10 O115,17.27,4 S101,17.2,4 S144,17.26,8 S153,17.02,8 S164,16.93,8 S164,17.22,8 C228,17.14,4 E101,17.13,3 S73,17.74,8 W68,17.88,10 W92,17.74,10 W92,17.89,10 M88,17.72,8 C76,18.02,4 E47,17.95,3 M131,17.74,8 S137,17.78,8 S163,17.7,8 M172,17.81,8 G153,18.02,6 W92,18.29,8 S100,18.3,6 G47,18.79,8 E47,18.95,10 E47,19.15,8 S73,19.14,6 W68,19.32,8 M88,19.18,8 W92,19.04,8 G90,19.33,10 S100,19.27,8 G104,19.33,8 A115,19.73,4 S153,19.05,8 E153,19.15,8 S163,18.85,6 M172,18.77,10 E47,20.3,10 E47,20.46,12 W84,20.48,8 M92,20.39,8 S100,20.49,6 X92,20.51,3 E153,20.39,10 E161,20.51,10 X163,20.2,4 E56,20.98,10 E47,21.16,12 W68,21.3,8 G90,20.98,3 W92,21.25,8 E101,21.17,10 M146,20.91,8 M146,21.12,8 S137,21.33,6 E153,21.35,10 E84,21.69,10 A106,21.6,6 S92,21.72,8 W92,21.82,6 E47,21.93,10 G47,22.07,10 E47,22.22,12 G90,22.09,6 E138,21.84,12 E153,21.84,12 E161,21.81,10 E153,22.1,12 E153,22.3,10 S138,21.79,6 A172,22,6 M192,22.24,8 M192,22.36,8 M88,22.63,8 X95,22.68,3 M105,22.62,8 S144,22.59,6 W92,22.62,3 E47,23.31,8 E101,23.26,8 M146,23.02,8 E153,23.21,10 S153,23.25,6 E161,23.1,8 A106,23.57,8 O115,23.66,4 A115,23.59,8 M104,23.8,4 E101,23.89,8 S92,23.93,8 C92,24.36,3 E84,24.15,8 E124,24.26,8 S153,24.17,6 E152,23.59,8 X163,23.62,8 S163,23.77,8 S163,24.57,8 E47,24.72,12 E47,24.9,12 S47,25.03,10 E47,25.11,12 A58,24.73,10 A58,25.22,12 A79,24.39,10 A78,24.87,10 E84,24.92,10 E101,24.94,12 A106,24.83,10 W92,24.9,6 S101,24.97,6 M92,25.29,6 A115,24.94,12 A115,25.14,12 A115,25.47,10 E138,24.87,12 S137,25.42,8 E138,25.03,12 E153,24.82,12 E161,24.95,12 E161,25.03,12 S163,24.63,8 X163,25.29,4 M131,24.96,6 S91,25.63,6 E47,26.06,10 S47,25.89,6 M75,26.03,8 E84,26.16,10 W92,26,6 E100,26.05,6 M105,26.26,8 C76,26.4,4 W92,26.42,6 S137,25.65,8 S163,25.63,8 X163,25.84,8 E161,26.1,8 S153,26.92,6 X163,26.82,4 S92,27,6 E92,27.17,6 S125,27.05,6 S193,27.04,6 C228,27.02,6 M192,27.19,4 S47,27.75,3 S100,27.64,8 W92,27.89,6 A115,27.89,3 E101,28.07,10 E138,27.79,15 S138,27.79,12 E153,27.89,12 S153,27.66,8 E153,28.07,12 X163,27.6,6 E138,28.26,12 E47,28.22,12 O115,28.33,4 W92,28.67,6 G47,28.81,8 C58,28.81,8 A75,28.77,8 E57,29.08,12 M92,28.81,8 E92,29.15,12 E104,29.1,12 W91,29.02,8 E124,28.96,12 M131,28.87,8 S128,29.31,6 E152,28.9,12 G153,29.19,10 W161,29.22,8 X163,28.81,8 A172,28.88,8 S193,28.66,8 C228,29.03,8 M192,29.34,10 E83,29.33,12 G92,29.33,8 S100,29.35,8 E46,29.63,15 W68,29.64,8 G58,29.87,8 E84,29.66,12 M92,29.66,12 E100,29.73,12 S100,29.95,8 M75,30.07,12 M58,30.25,12 W68,30.33,8 E92,30.12,12 M92,30.4,10 M105,30.22,12 E138,29.89,15 E138,30.25,15 M131,30.09,12 S153,30.15,12 E153,30.33,12 G153,29.97,10 M160,30.38,12 E171,30.07,12 B158,29.95,4 E161,29.75,12 C228,29.64,8 S193,30.12,8 M172,30.07,10 E153,29.61,12 E47,30.9,10 G47,31.11,8 E47,31.27,10 M87,30.74,8 B92,30.85,3 X92,31.11,8 E92,31.32,10 A115,30.71,10 A115,30.9,10 A115,31.11,10 O115,31.28,6 A115,31.28,8 E138,30.85,10 E138,31.17,12 E153,31.14,12 S163,30.74,8 S161,31.03,10 M104,30.86,10",
"E152,-.32,10 E152,-.11,10 G152,-.03,8 E152,.25,10 E84,-.06,10 M172,-.17,10 M172,-.01,10 M92,.17,10 M76,.63,10 M76,.97,8 S73,.98,8 M97,.94,8 S163,.87,8 S163,1.26,8 M184,1.15,8 M196,1.22,8 S136,1.5,8 A58,1.67,10 E83,1.62,10 G92,1.75,6 A76,1.79,10 A74,1.98,10 E100,1.89,10 E100,2.03,10 A114,1.79,12 A114,2.02,12 O114,2.12,8 A123,2.02,10 A114,2.3,10 S73,2.22,8 S136,1.85,8 E152,1.73,10 S152,1.94,10 G152,2.16,8 X152,2.3,8 S172,1.62,8 B76,2.83,4 A58,3.25,15 A76,3.3,15 S73,3.09,15 E90,2.79,20 E101,2.73,20 S92,3.04,15 W92,3.32,6 A114,2.79,15 O114,2.94,10 A120,3.25,15 S136,2.92,12 S136,3.33,12 E152,2.66,15 S161,2.78,15 E152,3.04,15 S172,2.94,12 W163,3.28,6 M178,3.21,8 M191,3.07,8 X163,2.92,10 S73,3.85,12 B58,3.86,4 A60,4.04,10 S73,4.18,10 M76,4.33,10 E92,3.95,12 E84,4.23,10 E101,4.1,10 E101,3.61,10 A92,4.26,8 S114,3.64,10 A114,4,8 S136,3.78,12 S138,4.2,12 E152,3.61,12 E152,3.92,12 E152,4.18,12 S163,4.13,10 M172,4,10 M172,4.28,10 M196,4.15,10 S172,3.61,10 E152,5.17,6 E124,5.37,6 S76,5.57,8 A76,6.02,4 S136,5.84,8 S136,6.16,8 S163,6.27,8 M196,5.72,8 M191,6.2,8 E92,6.61,10 E152,6.61,10 E152,6.97,10 E138,7.15,10 E100,7.26,10 E100,7.38,10 E152,7.36,10 M172,7.23,4 E152,7.62,10 E152,7.8,10 E84,7.92,10 E152,8.16,10 E152,8.26,10 S73,8.57,4 M97,8.83,8 M76,9.09,10 M184,8.86,8 M196,9.19,8 A58,9.7,15 A55,10.17,15 S73,9.66,12 E92,9.71,15 W98,9.73,8 M76,9.97,15 M74,10.23,15 M92,10.23,15 A83,9.92,15 E100,9.86,15 E116,9.81,15 O114,9.71,8 A114,10.17,15 S110,10.17,12 E125,9.98,15 S136,9.71,12 S136,10.23,12 E152,9.71,15 E152,10.02,15 E153,10.23,15 S163,10.33,12 A172,10.23,12 M172,9.61,15 M177,9.77,15 M191,9.95,12 M196,10.16,12 M172,10.06,15 X152,9.91,12 E124,11.03,8 E124,11.16,8 E100,11.19,8 S73,11.37,4 E100,12.14,3 S163,12.35,4 A76,12.68,4 S76,12.78,8 S73,12.89,8 S136,12.61,8 S136,13.06,8 S163,12.85,8 M196,12.64,8 M191,13.19,8 S73,13.79,8 E124,14.13,8 E124,14.3,8 W163,14.3,6 S163,14.28,6 S136,14.6,8 S136,14.91,8 M196,15.04,8 M191,15.18,8 S163,15.3,8 E100,15.62,6 E152,16.38,8 S92,16.6,8 O114,16.69,8 A114,16.78,12 A123,16.91,12 O114,16.91,8 A58,16.99,12 E101,16.96,6 S152,16.89,6 S152,17.19,6 X152,17.29,6 A114,17.32,12 E100,17.36,8 E84,17.71,10 X92,17.79,4 E100,17.73,10 E124,17.78,10 S137,17.86,4 E152,17.65,10 E152,17.81,10 M178,17.67,8 M76,17.96,8 M196,18.02,8 E124,18.05,10 E100,18.64,10 X92,18.61,4 E84,18.82,10 E152,18.59,10 S160,18.72,4 S172,18.66,4 E152,19.02,15 E152,19.28,10 M172,19.6,4 E139,20.74,15 E152,20.71,20 G152,20.92,8 E100,20.96,15 W98,21,4 E100,21.22,15 E152,21.15,15 E84,21.35,15 S163,21.15,4 E152,21.79,8 G163,21.93,10 S163,22,10 A59,21.9,8 A76,22.1,8 E100,22.02,8 E100,22.15,8 S92,22.31,8 S136,22.21,8 E152,22.23,8 A53,22.67,10 A55,22.98,10 W92,23.03,8 S110,23.1,3 O114,23.29,4 A76,23.33,8 E152,23.03,3 W162,22.85,8 A171,23.68,4 E100,23.68,10 E84,23.95,10 E100,23.98,10 E124,24.09,10 E124,24.32,10 E138,23.99,10 S152,24.1,3 S163,24.17,3 E92,24.6,8 E100,24.67,10 W92,24.7,4 E84,25.1,10 M92,25,12 M92,25.13,12 E100,25.1,10 X92,25.44,4 E138,24.97,10 E152,24.93,10 X152,25.08,6 S163,24.8,6 E157,24.86,6 M172,24.62,12 M172,24.83,12 M172,24.98,12 M191,25.23,12 M76,25.8,10 E84,25.93,8 O114,26.17,4 M92,26.24,12 E100,26.27,8 E92,26.6,8 E124,25.9,8 E124,26.1,8 S137,26,6 G152,26.03,4 E152,25.62,8 M172,25.75,12 M172,25.85,12 S163,25.92,6 A114,26.29,6 S73,26.54,6 M76,26.7,8 E138,26.87,10 E152,26.87,10 E152,27.02,10 S161,26.82,6 S163,26.87,4 A171,26.92,6 M172,26.67,8 M196,27.19,8 E100,27.73,8 A123,27.66,8 A123,27.73,8 A114,27.99,8 E152,27.83,8 E152,27.9,8 E159,28.34,8 O114,28.33,3 S73,28.67,8 E100,28.63,8 E100,28.76,8 M76,29.05,8 M172,28.62,8 G152,28.93,8 G163,28.95,10 G163,29.11,10 X152,29.22,6 S137,29.33,10 A171,29.32,4 M76,29.91,10 M92,29.76,12 M92,29.87,12 E100,29.7,12 E84,30.16,12 E100,30.04,12 E95,30.07,12 E136,29.7,12 E152,29.78,12 E152,29.95,12 E152,30.19,15 G152,30.19,10 E138,30.34,12 S163,29.65,8 S163,29.89,8 M172,29.91,12 M177,30.11,12 W165,30.34,4 X163,30.08,8 E124,30.74,10 E100,31.07,12 E101,31.36,10 E92,31.38,10 E138,30.9,10 E152,30.99,12 E152,31.14,12 E152,31.3,12 E124,31.39,10 S152,30.84,8 X152,31.38,8 E159,31.04,10",
"S92,-.38,6 M92,-.24,3 S152,-.34,6 M92,.77,3 O201,.81,3 W44,1.1,3 S152,1.58,3 E152,1.78,6 A114,1.86,3 O114,2.28,3 E138,2.32,6 S152,2.63,4 A44,2.63,8 S58,2.79,8 A92,2.77,8 O114,2.67,8 E99,2.94,8 E138,2.87,8 E44,3.2,8 A54,3.25,8 S82,3.35,8 A92,3.12,8 S92,3.33,6 E101,3.04,8 O114,3.16,8 S136,3.35,8 S152,3.25,8 W201,3.14,8 S58,3.66,8 E100,3.76,8 E138,3.76,8 A54,4.15,8 S82,4.28,8 A92,4.05,8 A107,4.26,8 E152,4.01,8 S152,3.9,8 E100,4.75,3 S124,4.71,3 S92,5.02,6 S152,5.18,6 S92,7.82,6 S152,8.24,6 W44,9.2,3 M92,9.35,3 E45,9.64,6 M92,9.66,8 S58,9.84,6 A44,9.84,8 W44,9.84,4 A54,9.99,6 E100,9.95,6 S92,10.11,6 E100,10.21,6 S136,10.11,6 S152,9.78,6 M171,9.68,10 M171,9.88,10 O201,9.18,3 W201,10.17,6 E45,11.37,3 S136,12.28,3 S58,13.08,6 S136,13.06,6 W201,12.87,3 W201,13.78,3 A103,14.13,3 E138,14.09,6 S152,14.09,6 S152,13.93,3 S58,14.69,3 W201,15.04,3 S82,16.15,3 E100,16.13,3 E100,16.81,3 O114,17.33,3 M92,17.99,3 S92,18.15,3 W89,18.32,3 S92,18.81,3 W89,19.39,3 S82,19.82,3 M92,20.07,3 E138,20.01,6 E152,19.62,6 S92,20.75,3 E100,20.73,3 W201,20.73,3 S82,21.37,3 E152,21.66,6 S58,22.22,3 M92,22.26,3 E138,22.22,6 A48,22.87,8 S152,22.71,3 O114,23,3 W201,22.75,6 W201,23.04,6 A54,23.41,6 M92,23.66,3 S152,23.9,4 S58,24.28,6 S92,24.67,6 S152,25.02,4 S58,25.8,3 M92,25.66,8 W89,26.24,4 M171,26.22,10 E45,26.85,3 S124,26.85,3 S152,28.25,4 S92,28.4,6 M92,28.6,3 E100,28.67,8 A92,28.98,3 E45,29,8 W89,29.22,3 E138,29.1,6 S152,28.94,4 E152,29.22,6 S58,29.31,6 S124,29.66,3 M171,29.74,8 M171,29.88,8 E100,29.99,8 W89,30.17,3 S92,30.42,6 S152,30.05,6 S152,30.63,3 E99,30.83,8 E138,30.99,8 E152,30.99,8 E100,31.16,8",
"E58,-.4,8 E58,.2,8 E101,.2,8 G92,.32,4 E136,.26,8 E152,.36,8 G152,-.18,4 S181,.81,3 W211,.81,3 M100,.65,10 M92,1.18,10 M99,1.16,10 M162,1.25,10 M177,1.25,10 E85,1.64,8 S75,1.78,8 A101,1.58,10 O114,1.7,10 A114,1.86,12 M170,1.85,6 E138,2.11,8 E152,1.76,8 S171,2.22,8 A58,1.99,12 A58,2.09,12 A92,2.32,12 O101,2.26,10 E58,2.73,15 S73,2.67,12 S92,2.67,15 A101,2.77,15 A114,2.77,15 O114,3.08,12 E136,2.63,15 S152,2.63,15 E162,2.71,12 E174,2.67,10 A58,3.08,15 S58,3.29,15 E79,3.04,15 S92,3.08,15 A101,3.29,15 A114,3.29,15 E136,3.29,15 E152,2.98,15 S152,3.35,12 M170,3.25,8 B190,3.08,6 M231,3.23,8 M231,3.6,10 E58,3.74,15 E81,3.7,12 M92,3.84,10 S101,3.8,12 S127,3.8,6 E136,3.99,15 E152,4.01,15 E162,3.74,12 M170,4.11,12 M179,4.23,10 E58,4.26,15 O92,4.26,10 E101,4.36,12 G152,4.17,10 G152,4.58,6 E136,4.98,8 E161,4.9,8 A92,4.77,6 E101,5.02,8 S92,5.25,6 M101,5.27,6 E136,5.25,8 S75,5.02,3 G152,4.83,6 M177,5.66,8 M92,5.57,8 S162,5.97,3 M92,6.09,8 M99,6.28,8 A114,6.2,4 M162,6.34,8 E58,6.83,15 E101,7,10 E101,7.25,10 M92,7.31,6 S127,7.15,4 E138,6.9,8 E138,7.27,8 G152,6.79,8 E161,6.85,10 S170,6.85,6 W146,7.16,3 M231,6.94,6 G152,7.72,8 G152,7.82,8 S152,8.05,6 S75,7.92,3 A58,8.03,3 E101,8.13,4 S162,8.59,3 S181,8.89,3 W211,9.2,3 M92,8.63,8 M99,8.79,8 M92,9.22,8 M231,9.74,12 X47,9.6,10 W58,9.68,12 S73,9.68,12 M92,9.64,15 S101,9.68,15 A114,9.64,12 E135,9.8,15 E152,9.62,15 M170,9.68,15 S162,9.78,12 X170,10.09,10 S181,10.3,12 W211,10.17,10 B190,9.93,6 B51,10.17,8 M58,10.17,12 E58,10.34,12 S73,10.34,12 S92,9.99,15 E92,10.34,15 M101,10.1,15 A113,10.34,12 S127,10.1,12 W145,9.97,10 S152,10.1,15 E152,10.34,15 S161,10.1,12 S92,10.63,6 S92,10.81,4 E135,10.87,8 E152,11.02,6 X162,11.33,4 E58,12.15,4 M231,11.84,3 M92,12.65,8 A114,12.73,8 A106,13.08,8 A101,13.33,8 E135,12.92,3 M161,12.87,8 M174,13.24,6 S181,13.3,3 W211,13.22,3 E58,13.66,8 E58,13.85,8 B65,13.93,3 E92,13.86,8 E101,14.21,8 E138,13.86,8 A114,14.73,8 A114,14.85,6 M162,15.12,8 M177,15.16,8 M231,16.4,3 E58,16.21,3 A103,16.17,3 E101,16.85,4 S83,16.95,4 O104,16.63,8 O114,16.79,8 A114,17.1,8 G152,17.23,3 M171,16.73,3 W58,17.86,6 G92,18.07,4 M100,17.84,8 C129,17.89,3 E152,18.03,4 W211,18.36,6 E58,18.6,10 E58,18.96,12 A83,18.94,3 E92,19.06,10 E101,19.06,8 E138,18.69,10 E138,18.85,10 G152,18.85,4 E152,19.2,12 M171,19.16,3 E58,19.76,6 E58,20.03,6 E58,20.31,6 E58,20.83,10 E81,20.83,10 S92,20.65,10 E101,20.67,10 O92,21.12,6 E101,20.98,10 A83,21.29,3 G102,21.64,3 E136,20.96,10 E136,21.29,10 E138,21.65,8 E152,20.71,12 E161,19.99,8 W162,20.28,3 G152,20.05,3 M171,20.67,8 M231,21.29,8 E58,22.21,8 E83,22.07,8 E101,22.36,8 M58,22.98,8 S92,22.82,8 A92,23.33,6 M99,23.29,8 A114,22.73,6 E138,22.85,6 S152,22.75,8 W58,23.66,8 M92,23.68,8 M58,24.22,8 X75,24.61,3 A92,24.07,3 E92,24.24,6 M99,24.1,10 E135,23.93,8 M177,24.1,10 E162,24.4,4 W211,24.34,6 E58,25.14,6 S73,25.27,3 E92,24.92,8 E101,25.2,8 G152,25.06,6 G159,25.16,6 X47,25.74,4 W58,25.96,12 E58,26.3,10 E58,26.63,10 A83,25.85,3 M92,25.76,10 E92,25.93,10 M100,25.68,8 W146,25.82,8 E152,26.01,8 S162,26.36,3 C129,26.31,3 W211,26.27,8 S75,26.65,8 S101,26.87,8 M92,27.2,10 A101,27.25,8 A114,27.22,6 S127,27.08,8 E152,27.31,10 E161,27.37,10 S159,26.92,8 E58,27.25,8 S75,27.89,3 A92,27.76,4 E101,27.62,6 G152,28.03,8 E161,28.03,6 C58,28.65,6 M92,28.69,10 E101,28.73,8 E135,28.75,10 E152,28.75,10 E161,28.65,10 S181,28.69,8 E170,29.12,10 M231,28.94,8 S72,29.06,10 E58,29.22,10 S92,29.1,10 M101,29.2,10 S114,29.12,8 C129,29.02,6 W146,29.31,8 G152,29.14,10 S162,29.31,8 M58,29.52,15 E58,29.72,15 E75,29.84,10 E92,29.64,12 M101,29.68,15 M92,29.88,15 E101,29.99,15 E138,29.74,12 G152,29.68,15 X162,29.88,8 B190,29.72,4 C58,30.09,8 X47,30.36,8 S75,30.26,8 S92,30.3,10 E101,30.36,12 C129,30.33,6 S138,30.03,10 E152,30.3,15 M162,30.36,10 M170,30.3,10 S181,30.33,10 M231,30.17,10 E58,30.71,10 E101,30.77,12 A114,30.98,8 E139,30.65,8 X75,30.9,4 A81,31.39,8 M93,31.33,8 E101,31.08,8 E138,31.29,8 G152,31.31,10 M231,31.06,6 S101,30.4,10",
"E62,-.42,3 E62,.79,3 M84,.63,8 S94,.71,3 M172,.73,8 E139,1.68,3 S163,1.78,3 B92,1.64,8 B89,1.93,8 A93,2.11,6 A115,1.89,10 A115,1.99,10 S152,2.07,3 X152,2.24,3 A92,2.61,10 B92,2.73,8 A115,2.67,10 S93,2.94,6 A115,3,10 E139,2.87,10 X152,2.73,6 S152,2.92,10 G152,3.04,10 S163,2.83,10 E62,3.2,10 S84,3.14,10 B92,3.2,8 E102,3.08,10 A108,3.2,12 O115,3.14,10 A123,3.2,10 E139,3.25,10 S163,3.25,10 E62,3.72,10 X199,3.84,3 E258,3.62,10 E152,4.01,8 E92,4.28,10 E152,4.3,8 G152,3.86,3 X152,4.81,3 E152,5.1,3 G152,5.25,3 S84,5.29,3 B89,5.35,3 S93,5.86,3 E152,6.63,10 G152,6.79,3 M172,6.71,8 M84,7,8 E62,7.29,10 E92,7.35,10 E152,7.33,8 S163,7.99,3 M84,9.12,8 S93,9.27,3 S93,9.58,8 M172,8.75,8 E62,9.84,10 M84,9.76,8 B92,9.93,8 E102,10.05,10 A107,9.84,8 A115,9.93,8 A122,9.78,8 E139,9.76,10 E152,9.62,10 S152,9.93,10 M145,10.07,8 G152,10.3,12 S163,9.72,10 S163,10.01,8 M172,9.7,8 X177,10.17,8 O115,10.21,8 O115,10.36,8 E258,9.6,10 S93,12.87,3 S93,14.81,3 M172,14.59,3 S84,17.06,3 O115,17.14,3 S152,17.18,3 G152,18.05,3 E152,18.32,3 E62,18.92,3 X152,19.35,3 A110,20.05,3 G152,20.77,6 S152,20.96,4 M84,20.94,6 M145,21.06,6 E152,21.74,3 A122,22.23,4 E62,22.87,3 B129,22.71,8 B92,23.1,10 M145,23.29,3 S152,23.33,3 S84,24.07,3 E62,24.69,8 E152,24.73,8 S139,24.69,3 M152,24.77,3 E139,25.06,8 E92,25.18,8 E92,27.14,4 E152,27.12,4 A115,27.22,3 O115,27.37,3 S163,27.01,3 S84,28.38,3 E102,28.61,8 O115,28.75,6 E62,28.85,10 A110,28.85,6 E139,28.23,6 E152,28.07,6 E152,28.75,10 W163,28.77,3 G152,29.2,6 O51,29.2,6 B66,29.06,4 E92,29.14,8 A115,29.22,6 E258,29.27,10 E62,30.3,10 E92,30.2,10 E139,30.09,8 G152,29.88,8 G152,30.17,8 S84,30.73,3 E139,30.75,8 E62,31.25,8 E139,31.27,8 G152,31.25,6 X152,31.35,4"
];
const ptCountry=[];
const ptSalary=[];
const ptSkill=[];
const ptJitter=[];
const ptJob=[];
const ptN=[];
pointData.forEach(function(str,ci){
  str.trim().split(/\s+/).forEach(function(tok){
    const parts=tok.slice(1).split(",");
    const v=parseFloat(parts[1]);
    const k=Math.min(skills.length-1,Math.max(0,Math.round(v)));
    ptCountry.push(ci);
    ptSalary.push(parseFloat(parts[0])*1000);
    ptSkill.push(k);
    ptJitter.push(v-k);
    ptJob.push(jobCodes.indexOf(tok[0]));
    ptN.push(parseFloat(parts[2]));
  });
});

const SVGNS="http://www.w3.org/2000/svg";
const PANEL_L=159, PANEL_STEP=198.93, PANEL_W=165, PANEL_T=80, PANEL_B=1273, STRIP_T=18;
const Y0=103.3, YSTEP=37, XMIN=20000, XMAX=270000;
function panelLeft(ci){return PANEL_L+ci*PANEL_STEP;}
function xScale(ci,sal){return panelLeft(ci)+(sal-XMIN)/(XMAX-XMIN)*PANEL_W;}
function yScale(skillIdx,jit){return Y0+(skillIdx+jit)*YSTEP;}
function rScale(n){return 0.8+1.22*Math.sqrt(n);}
function mk(tag,attrs,parent){
  const el=document.createElementNS(SVGNS,tag);
  for(const k in attrs){el.setAttribute(k,attrs[k]);}
  parent.appendChild(el);
  return el;
}

const gPanels=document.getElementById("panels");
const gPoints=document.getElementById("points");
const gAxes=document.getElementById("axes");
const gLegend=document.getElementById("legend");

// Panels: strip, background, grid, x ticks
countries.forEach(function(name,ci){
  const L=panelLeft(ci);
  const strip=mk("rect",{x:L,y:STRIP_T,width:PANEL_W,height:PANEL_T-STRIP_T,fill:"#d9d9d9"},gPanels);
  
  
  const st=mk("text",{x:L+PANEL_W/2,y:(STRIP_T+PANEL_T)/2+4.5,"text-anchor":"middle","font-size":"13","fill":"#1a1a1a"},gPanels);
  st.textContent=name;
  
  
  const bg=mk("rect",{x:L,y:PANEL_T,width:PANEL_W,height:PANEL_B-PANEL_T,fill:"#ebebeb"},gPanels);
  
  
  xMinorTicks.forEach(function(t){
    const x=xScale(ci,t);
    const ln=mk("line",{x1:x,x2:x,y1:PANEL_T,y2:PANEL_B,stroke:"#d2d2d2","stroke-width":"1"},gPanels);
    
    
  });
  skills.forEach(function(s,si){
    const y=yScale(si,0);
    const ln=mk("line",{x1:L,x2:L+PANEL_W,y1:y,y2:y,stroke:"#9a9a9a","stroke-width":"1","stroke-dasharray":"5,2,1,2"},gPanels);
    
    
  });
  xTicks.forEach(function(t,ti){
    const x=xScale(ci,t);
    const ln=mk("line",{x1:x,x2:x,y1:PANEL_T,y2:PANEL_B,stroke:"#9a9a9a","stroke-width":"1","stroke-dasharray":"5,2,1,2"},gPanels);
    
    
    const tk=mk("line",{x1:x,x2:x,y1:PANEL_B,y2:PANEL_B+4,stroke:"#333333","stroke-width":"1"},gAxes);
    
    
    const lb=mk("text",{x:x,y:PANEL_B+16,"text-anchor":"middle","font-size":"12.5","fill":"#4d4d4d"},gAxes);
    lb.textContent=xTickLabels[ti];
    
    
  });
});

// Points
for(let i=0;i<ptSalary.length;i++){
  const col=jobColors[ptJob[i]];
  const c=mk("circle",{cx:xScale(ptCountry[i],ptSalary[i]).toFixed(1),cy:yScale(ptSkill[i],ptJitter[i]).toFixed(1),r:rScale(ptN[i]).toFixed(2),fill:col,"fill-opacity":"0.5",stroke:col,"stroke-opacity":"0.5","stroke-width":"0.8"},gPoints);
  
  
}

// Y axis ticks and labels
skills.forEach(function(s,si){
  const y=yScale(si,0);
  const tk=mk("line",{x1:PANEL_L-4,x2:PANEL_L,y1:y,y2:y,stroke:"#333333","stroke-width":"1"},gAxes);
  
  
  const lb=mk("text",{x:PANEL_L-7,y:y+4.5,"text-anchor":"end","font-size":"13","fill":"#4d4d4d"},gAxes);
  lb.textContent=s;
  
  
});

// Axis titles
const yTitle=mk("text",{x:0,y:0,"text-anchor":"middle","font-size":"15","fill":"#000000",transform:"translate(44,676) rotate(-90)"},gAxes);
yTitle.textContent="Skills";


const xTitle=mk("text",{x:1634,y:1321,"text-anchor":"middle","font-size":"15","fill":"#000000"},gAxes);
xTitle.textContent="Salary";



// Legend: Job
const LX=3213;
const jobTitle=mk("text",{x:LX,y:501,"font-size":"15","fill":"#000000"},gLegend);
jobTitle.textContent="Job";


jobNames.forEach(function(nm,ji){
  const y=508+ji*25;
  const g=mk("g",{},gLegend);
  
  
  const bx=mk("rect",{x:LX,y:y,width:22,height:22,fill:"#f2f2f2"},g);
  
  
  const dot=mk("circle",{cx:LX+11,cy:y+11,r:3.5,fill:jobColors[ji],"fill-opacity":"0.5",stroke:jobColors[ji],"stroke-opacity":"0.5","stroke-width":"0.8"},g);
  
  
  const tx=mk("text",{x:LX+25,y:y+15.5,"font-size":"12.5","fill":"#000000"},g);
  tx.textContent=nm;
  
  
});

// Legend: n (size)
const nTitle=mk("text",{x:LX,y:779,"font-size":"15","fill":"#000000"},gLegend);
nTitle.textContent="n";


const sizeBoxY=[785,809,837];
const sizeBoxH=[22,26,27];
sizeLegendValues.forEach(function(v,si){
  const y=sizeBoxY[si], h=sizeBoxH[si];
  const g=mk("g",{},gLegend);
  
  
  const bx=mk("rect",{x:LX,y:y,width:26,height:h,fill:"#f2f2f2"},g);
  
  
  const dot=mk("circle",{cx:LX+13,cy:y+h/2,r:rScale(v).toFixed(2),fill:"#000000","fill-opacity":"0.5",stroke:"#000000","stroke-opacity":"0.5","stroke-width":"0.8"},g);
  
  
  const tx=mk("text",{x:LX+30,y:y+h/2+4.5,"font-size":"12.5","fill":"#000000"},g);
  tx.textContent=sizeLegendLabels[si];
  
  
});
</script>
</body>
</html>
